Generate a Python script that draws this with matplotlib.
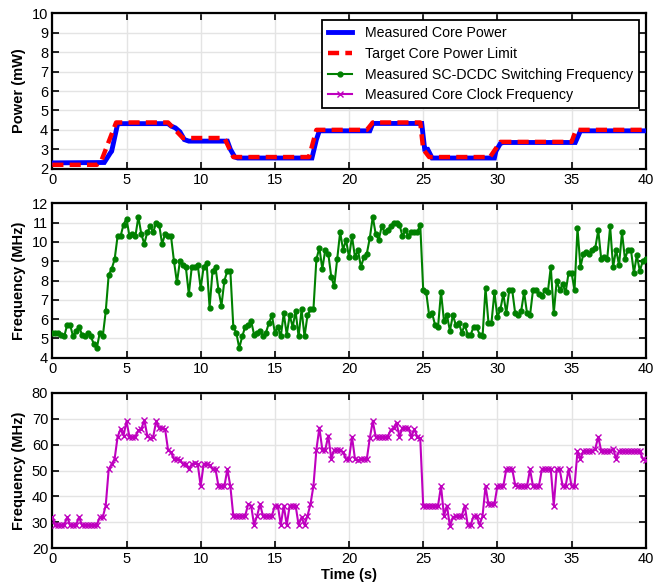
import numpy as np
import matplotlib
matplotlib.use("Agg")
import matplotlib.pyplot as plt

plt.rcParams['font.family'] = ['Liberation Sans', 'DejaVu Sans']

# ---------------- data ----------------
time_s = np.linspace(0, 40, 201)

sc_freq_mhz = [
    5.3, 5.3, 5.3, 5.2, 5.1, 5.7, 5.7, 5.1, 5.4, 5.6, 5.2, 5.1, 5.3, 5.1, 4.7, 4.5, 5.3, 5.1, 6.4, 8.3,
    8.6, 9.1, 10.3, 10.3, 10.9, 11.2, 10.3, 10.4, 10.3, 11.3, 10.4, 9.9, 10.5, 10.8, 10.5, 11.0, 10.9, 9.9, 10.4, 10.3,
    10.3, 9.0, 7.9, 9.0, 8.8, 8.7, 7.3, 8.7, 8.7, 8.8, 7.6, 8.7, 8.9, 6.6, 8.5, 8.7, 7.5, 6.7, 8.0, 8.5,
    8.5, 5.6, 5.3, 4.5, 5.1, 5.6, 5.7, 5.9, 5.2, 5.3, 5.4, 5.1, 5.3, 5.8, 6.2, 5.3, 5.6, 5.1, 6.3, 5.2,
    6.2, 5.6, 6.4, 5.1, 6.5, 5.1, 6.2, 6.5, 6.5, 9.1, 9.7, 8.6, 9.6, 9.4, 8.2, 7.7, 9.1, 10.5, 9.6, 10.1,
    9.2, 10.3, 9.2, 9.6, 8.7, 9.2, 9.4, 10.2, 11.3, 10.4, 10.1, 10.8, 10.5, 10.6, 10.8, 11.0, 11.0, 10.9, 10.3, 10.6,
    10.3, 10.5, 10.5, 10.5, 10.9, 7.5, 7.4, 6.2, 6.3, 5.7, 5.6, 7.4, 5.9, 6.2, 5.4, 6.2, 5.7, 5.8, 5.3, 5.7,
    5.2, 5.2, 5.6, 5.6, 5.2, 5.1, 7.6, 5.8, 5.8, 7.4, 6.1, 6.5, 7.3, 6.3, 7.5, 7.5, 6.3, 6.2, 6.4, 7.4,
    6.3, 6.2, 7.5, 7.5, 7.3, 7.2, 7.5, 7.4, 8.7, 6.3, 8.0, 7.5, 7.8, 7.4, 8.4, 8.4, 7.5, 10.7, 8.7, 9.4,
    9.5, 9.4, 9.6, 9.7, 10.6, 9.1, 9.2, 9.1, 10.8, 8.7, 9.6, 8.8, 10.5, 9.1, 9.6, 9.6, 8.4, 9.3, 8.5, 9.0,
    9.1,
]

clock_freq_mhz = [
    32, 29, 29, 29, 29, 32, 29, 29, 29, 32, 29, 29, 29, 29, 29, 29, 32, 32, 36.5, 50.5,
    52.5, 54.5, 63, 66, 63.5, 69, 63, 63, 63, 65.5, 66, 69.5, 63.5, 62.5, 63, 69, 66.5, 66.5, 66, 58,
    57, 54.5, 54.5, 54, 52.5, 52.5, 50.5, 52.5, 53, 52.5, 44, 52.5, 52.5, 52, 50.5, 50.5, 44, 44, 44, 50.5,
    44, 32.5, 32.5, 32.5, 32.5, 32.5, 37, 36.5, 29, 32.5, 37, 32.5, 32.5, 32.5, 32.5, 36.5, 36.5, 29, 36.5, 29,
    36.5, 36.5, 36.5, 29, 32, 29, 32.5, 37, 44, 58, 66.5, 58, 58, 63.5, 54.5, 58, 58, 58, 57, 54.5,
    54.5, 63, 54.5, 54, 54.5, 54.5, 54.5, 62.5, 69, 63, 63, 63, 63, 63, 65.5, 66.5, 68.5, 63, 66.5, 66.5,
    66.5, 63, 66, 63, 62.5, 36.5, 36.5, 36.5, 36.5, 36.5, 36.5, 44, 32.5, 36.5, 28.5, 32, 32.5, 32.5, 32.5, 36.5,
    29, 29, 32.5, 32.5, 29, 32.5, 44, 37, 37, 37, 44, 44, 44, 50.5, 50.5, 50.5, 44.5, 44, 44, 44,
    44, 50.5, 44, 44, 44, 50.5, 50.5, 50.5, 50.5, 36.5, 50.5, 50.5, 44, 44, 50.5, 44, 44, 57.5, 54.5, 57.5,
    57.5, 57.5, 57.5, 58.5, 63, 57.5, 57.5, 57.5, 57.5, 58.5, 54.5, 57.5, 57.5, 57.5, 57.5, 57.5, 57.5, 57.5, 57.5, 54.5,
    54,
]

power_t = [0, 3.5, 3.9, 4.0, 4.4, 4.6, 7.8, 8.0, 8.3, 8.6, 8.9, 9.2, 11.8, 12.0, 12.3, 12.5,
           17.5, 17.8, 18.0, 21.4, 21.6, 24.9, 25.1, 25.3, 25.6, 29.8, 29.9, 30.2, 30.4,
           35.25, 35.6, 40]
power_mw = [2.3, 2.32, 2.8, 2.9, 4.3, 4.32, 4.32, 4.2, 4.1, 3.9, 3.5, 3.42, 3.42, 3.0, 2.6, 2.55,
            2.55, 3.5, 3.95, 3.95, 4.33, 4.33, 3.0, 3.0, 2.55, 2.55, 2.9, 3.3, 3.35,
            3.35, 3.95, 3.95]

target_t = [0, 3.0, 3.3, 4.3, 7.8, 8.8, 11.6, 12.2, 17.3, 17.8, 21.2, 21.6, 24.8, 25.0, 25.4,
            29.5, 30.2, 35.0, 35.3, 40]
target_mw = [2.2, 2.2, 2.4, 4.38, 4.38, 3.58, 3.58, 2.6, 2.6, 4.0, 4.0, 4.38, 4.38, 3.0, 2.6,
             2.6, 3.38, 3.38, 4.0, 4.0]

x_ticks = [0, 5, 10, 15, 20, 25, 30, 35, 40]

# ---------------- figure ----------------
fig = plt.figure(figsize=(6.64, 5.87), dpi=100)
left, width = 0.0788, 0.8937
ax1 = fig.add_axes([left, 0.7126, width, 0.2647])
ax2 = fig.add_axes([left, 0.3906, width, 0.2630])
ax3 = fig.add_axes([left, 0.0659, width, 0.2650])

GREEN = (0.0, 0.5, 0.0)
MAG = (0.75, 0.0, 0.75)

l1, = ax1.plot(power_t, power_mw, color='#0000ff', lw=3.5, solid_joinstyle='miter',
               label='Measured Core Power', zorder=3)
l2, = ax1.plot(target_t, target_mw, color='#ff0000', lw=3.2, dashes=(2.5, 1.4),
               label='Target Core Power Limit', zorder=4)
l3, = ax1.plot([], [], color=GREEN, lw=1.5, marker='o', ms=3.5,
               label='Measured SC-DCDC Switching Frequency')
l4, = ax1.plot([], [], color=MAG, lw=1.5, marker='x', ms=4.5, mew=1.0,
               label='Measured Core Clock Frequency')

ax2.plot(time_s, sc_freq_mhz, color=GREEN, lw=1.5, marker='o', ms=3.5, zorder=3)
ax3.plot(time_s, clock_freq_mhz, color=MAG, lw=1.5, marker='x', ms=4.5, mew=1.0, zorder=3)

for ax, (lo, hi, step) in zip((ax1, ax2, ax3), ((2, 10, 1), (4, 12, 1), (20, 80, 10))):
    ax.set_xlim(0, 40)
    ax.set_ylim(lo, hi)
    ax.set_xticks(x_ticks)
    ax.set_yticks(np.arange(lo, hi + step / 2, step))
    ax.grid(True, color='#e4e4e4', lw=1.0, zorder=0)
    ax.set_axisbelow(True)
    ax.tick_params(direction='in', top=True, right=True, length=5, width=1.2,
                   labelsize=10.5, pad=3)
    for sp in ax.spines.values():
        sp.set_linewidth(1.6)
        sp.set_color('black')

ax1.set_ylabel('Power (mW)', fontsize=10.5, fontweight='bold', labelpad=4)
ax2.set_ylabel('Frequency (MHz)', fontsize=10.5, fontweight='bold', labelpad=4)
ax3.set_ylabel('Frequency (MHz)', fontsize=10.5, fontweight='bold', labelpad=4)
ax3.set_xlabel('Time (s)', fontsize=10.5, fontweight='bold', labelpad=1)

leg = ax1.legend(handles=[l1, l2, l3, l4], loc='upper right',
                 bbox_to_anchor=(0.989, 0.957), fontsize=10.2, frameon=True,
                 fancybox=False, framealpha=1, edgecolor='black',
                 borderpad=0.42, labelspacing=0.48, handlelength=1.65,
                 handletextpad=0.95, borderaxespad=0)
leg.get_frame().set_linewidth(1.3)

fig.savefig('out.png', dpi=100)
